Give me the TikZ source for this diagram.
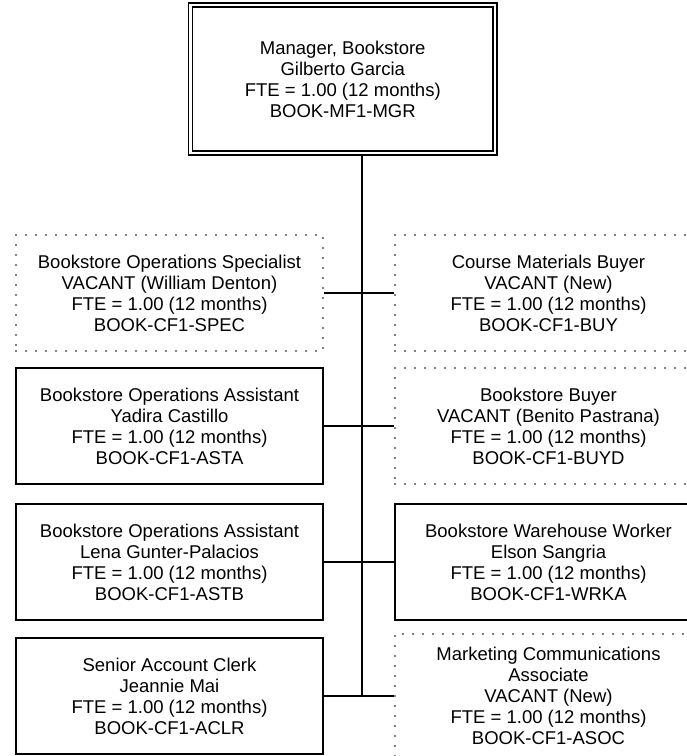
\documentclass[tikz,border=0pt]{standalone}
\usepackage{fontspec}
\setmainfont{Liberation Sans}
\usepackage{tikz}
\tikzset{>=latex}
\tikzset{
    post/.style={draw, line width=1.4pt, minimum width=307pt, minimum height=116pt, inner sep=0pt, align=center, font=\fontsize{18.5}{21}\selectfont},
    vacant/.style={post, line width=1.7pt, line cap=round, dash pattern=on 0pt off 10pt},
    head/.style={post, double, line width=1.6pt, double distance=2.4pt, minimum width=304.5pt, minimum height=148pt},
    link/.style={line width=1.3pt},
    trunk/.style={line width=2.2pt}
}

\begin{document}
\begin{tikzpicture}[x=1pt, y=-1pt]
                \useasboundingbox (0, 0) rectangle (687, 756);
                \node[head] (mgr) at (342.75, 79) {Manager, Bookstore\\Gilberto Garcia\\FTE = 1.00 (12 months)\\BOOK-MF1-MGR};
                \node[vacant] (spec) at (169.5, 293) {Bookstore Operations Specialist\\VACANT (William Denton)\\FTE = 1.00 (12 months)\\BOOK-CF1-SPEC};
                \node[vacant] (buy) at (548.5, 293) {Course Materials Buyer\\VACANT (New)\\FTE = 1.00 (12 months)\\BOOK-CF1-BUY};
                \node[post] (asta) at (169.5, 426) {Bookstore Operations Assistant\\Yadira Castillo\\FTE = 1.00 (12 months)\\BOOK-CF1-ASTA};
                \node[vacant] (buyd) at (548.5, 426) {Bookstore Buyer\\VACANT (Benito Pastrana)\\FTE = 1.00 (12 months)\\BOOK-CF1-BUYD};
                \node[post] (astb) at (169.5, 562) {Bookstore Operations Assistant\\Lena Gunter-Palacios\\FTE = 1.00 (12 months)\\BOOK-CF1-ASTB};
                \node[post] (wrka) at (548.5, 562) {Bookstore Warehouse Worker\\Elson Sangria\\FTE = 1.00 (12 months)\\BOOK-CF1-WRKA};
                \node[post] (aclr) at (169.5, 696) {Senior Account Clerk\\Jeannie Mai\\FTE = 1.00 (12 months)\\BOOK-CF1-ACLR};
                \node[vacant, minimum height=124pt] (asoc) at (548.5, 696) {Marketing Communications\\Associate\\VACANT (New)\\FTE = 1.00 (12 months)\\BOOK-CF1-ASOC};
                \coordinate (spine) at (362, 696);
                \draw[trunk] (mgr.south -| spine) -- (spine);
                \draw[link] (spec.east) -- (buy.west);
                \draw[link] (asta.east) -- (buyd.west);
                \draw[link] (astb.east) -- (wrka.west);
                \draw[link] (aclr.east) -- (asoc.west);
            \end{tikzpicture}
\end{document}
